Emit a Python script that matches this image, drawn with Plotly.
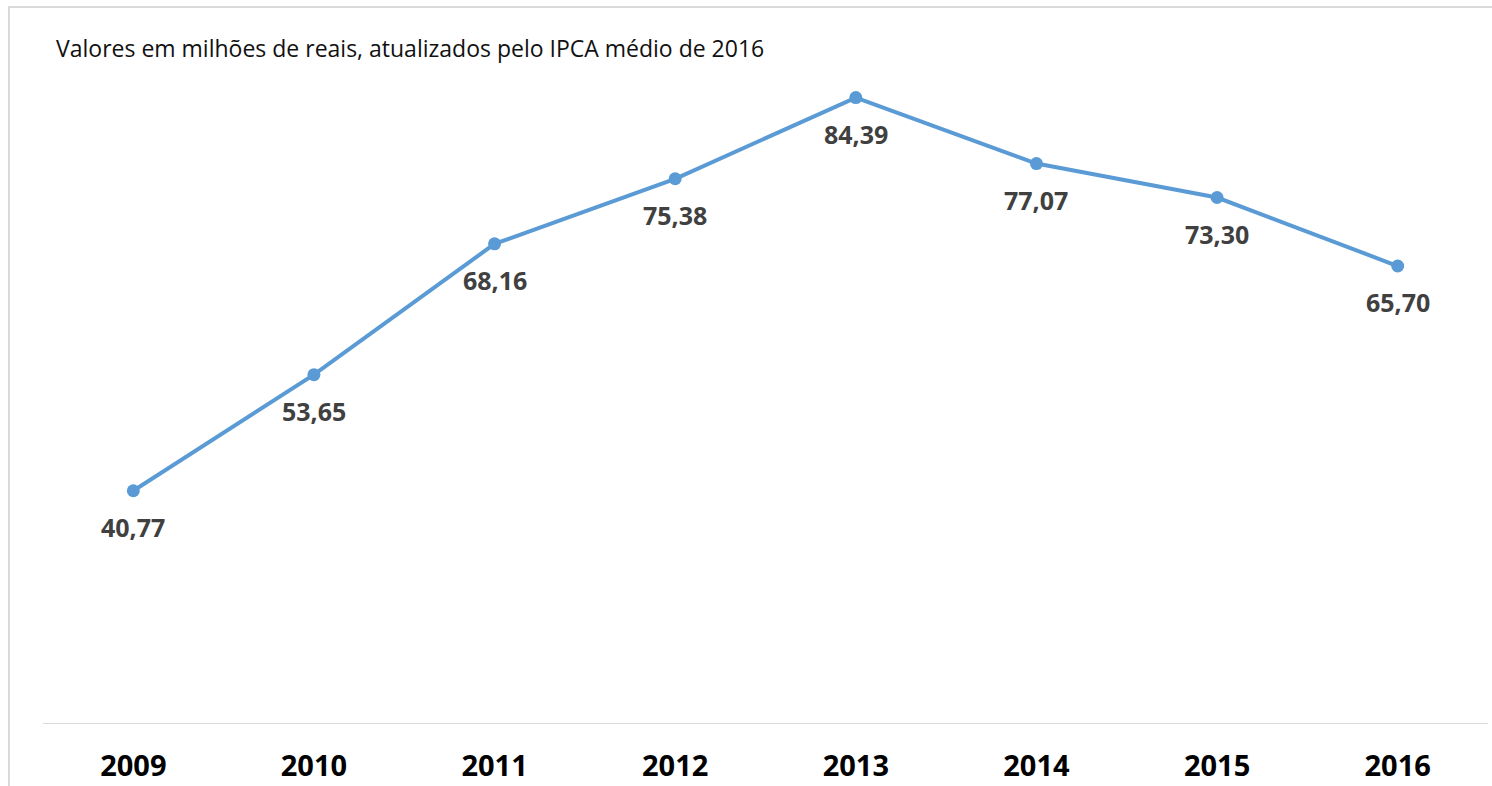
import plotly.graph_objects as go

years = ["2009", "2010", "2011", "2012", "2013", "2014", "2015", "2016"]
values = [40.77, 53.65, 68.16, 75.38, 84.39, 77.07, 73.30, 65.70]
labels = ["40,77", "53,65", "68,16", "75,38", "84,39", "77,07", "73,30", "65,70"]
title_text = "Valores em milhões de reais, atualizados pelo IPCA médio de 2016"

W, H = 1492, 786
L, R, T, B = 43, 4, 47, 63
pw, ph = W - L - R, H - T - B

fig = go.Figure()
fig.add_trace(go.Scatter(
    x=years, y=values, mode="lines+markers",
    line=dict(color="#5B9BD5", width=4),
    marker=dict(color="#5B9BD5", size=13),
    hoverinfo="skip", showlegend=False,
))

for i, (v, lab) in enumerate(zip(values, labels)):
    fig.add_annotation(x=i, y=v, xref="x", yref="y", text=lab, showarrow=False, yshift=-36,
                       font=dict(family="Open Sans", size=25, color="#404040", weight="bold"))

fig.add_annotation(xref="paper", yref="paper", x=(54 - L) / pw, y=(H - B - 48) / ph,
                   xanchor="left", yanchor="middle", showarrow=False, text=title_text,
                   font=dict(family="Open Sans", size=23, color="#111111"))

# chart border (left and top edges visible)
fig.add_shape(type="rect", xref="paper", yref="paper",
              x0=(9 - L) / pw, x1=(W + 20 - L) / pw,
              y0=(H - B - (H + 20)) / ph, y1=(H - B - 7) / ph,
              line=dict(color="#d9d9d9", width=2), fillcolor="rgba(0,0,0,0)", layer="below")

fig.update_layout(
    width=W, height=H,
    margin=dict(l=L, r=R, t=T, b=B),
    paper_bgcolor="white", plot_bgcolor="white",
    xaxis=dict(type="category", range=[-0.5, 7.5], showgrid=False, zeroline=False,
               showline=True, linecolor="#d9d9d9", linewidth=1, automargin=False,
               ticks="", ticklabelstandoff=17,
               tickfont=dict(family="Open Sans", size=29, color="#000000", weight="bold")),
    yaxis=dict(range=[15, 90], visible=False, showgrid=False, zeroline=False, automargin=False),
)

fig.write_html("out.html", config={"displayModeBar": False},
               post_script="document.body.style.margin='0';document.body.style.overflow='hidden';")
